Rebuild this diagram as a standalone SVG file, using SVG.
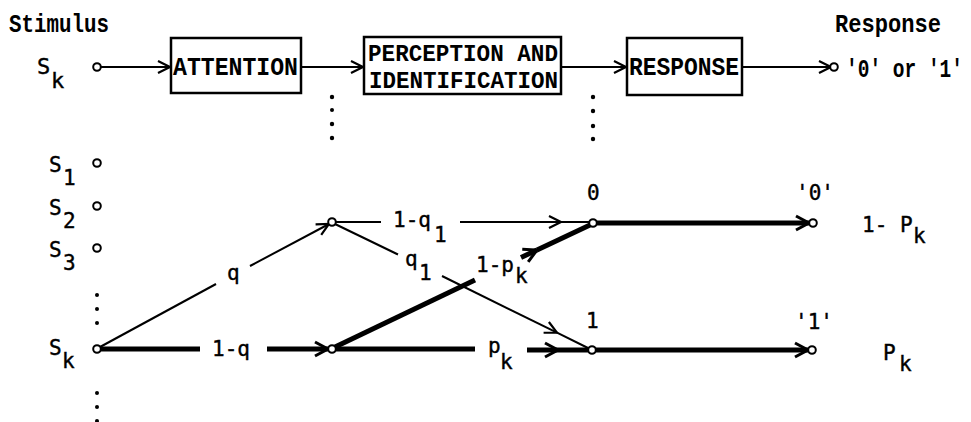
<svg xmlns="http://www.w3.org/2000/svg" width="971" height="422" viewBox="0 0 971 422">
<style>
.tw{font-family:"Liberation Mono","Courier New",monospace;font-weight:bold;font-size:22px;fill:#000}
.lg{font-family:"DejaVu Sans Mono","Liberation Mono",monospace;font-size:21px;fill:#000;stroke:#000;stroke-width:0.4}
.box{fill:#fff;stroke:#000;stroke-width:2.5}
.thin{stroke:#000;stroke-width:2;fill:none}
.thick{stroke:#000;stroke-width:5;fill:none}
.node{fill:#fff;stroke:#000;stroke-width:2}
.dot{fill:#000}
</style>
<defs>
<marker id="ah" markerUnits="userSpaceOnUse" markerWidth="16" markerHeight="16" viewBox="0 0 16 16" refX="13" refY="8" orient="auto">
<path d="M1,2 L13,8 L1,14" fill="none" stroke="#000" stroke-width="2.2"/>
</marker>
<marker id="ahb" markerUnits="userSpaceOnUse" markerWidth="18" markerHeight="18" viewBox="0 0 18 18" refX="14" refY="9" orient="auto">
<path d="M1,2 L14,9 L1,16" fill="none" stroke="#000" stroke-width="3"/>
</marker>
</defs>

<!-- top labels -->
<text class="tw" transform="translate(9,32) scale(1,1.15)" textLength="100" lengthAdjust="spacingAndGlyphs">Stimulus</text>
<text class="tw" transform="translate(835,32) scale(1,1.15)" textLength="106" lengthAdjust="spacingAndGlyphs">Response</text>

<g id="connectors">
<!-- top flow -->
<line class="thin" x1="100" y1="67" x2="170" y2="67" marker-end="url(#ah)"/>
<line class="thin" x1="301" y1="67" x2="363" y2="67" marker-end="url(#ah)"/>
<line class="thin" x1="561" y1="67" x2="626" y2="67" marker-end="url(#ah)"/>
<line class="thin" x1="742" y1="67" x2="831" y2="67" marker-end="url(#ah)"/>
<!-- Sk -> q node -->
<line class="thin" x1="100" y1="347" x2="216" y2="284"/>
<line class="thin" x1="250" y1="266" x2="329" y2="224" marker-end="url(#ah)"/>
<!-- Sk -> 1-q node -->
<line class="thick" x1="100" y1="349" x2="200" y2="349"/>
<line class="thick" x1="267" y1="349" x2="328" y2="349" marker-end="url(#ahb)"/>
<!-- q node -> 0 (1-q1) -->
<line class="thin" x1="335" y1="222" x2="381" y2="222"/>
<line class="thin" x1="460" y1="222" x2="561" y2="222" marker-end="url(#ah)"/>
<line class="thin" x1="561" y1="222" x2="589" y2="222"/>
<!-- q node -> 1 (q1) -->
<line class="thin" x1="335" y1="224" x2="398" y2="254.5"/>
<line class="thin" x1="442" y1="276" x2="557" y2="332.7" marker-end="url(#ah)"/>
<line class="thin" x1="557" y1="332.7" x2="589" y2="348.5"/>
<!-- 1-q node -> 0 (1-pk) -->
<line class="thick" x1="335" y1="347" x2="475" y2="280"/>
<line class="thick" x1="521" y1="257.5" x2="537" y2="250" marker-end="url(#ahb)"/>
<line class="thick" x1="537" y1="250" x2="590" y2="225"/>
<!-- 1-q node -> 1 (pk) -->
<line class="thick" x1="335" y1="349" x2="475" y2="349"/>
<line class="thick" x1="527" y1="350" x2="558" y2="350" marker-end="url(#ahb)"/>
<line class="thick" x1="558" y1="350" x2="589" y2="350"/>
<!-- 0 -> '0', 1 -> '1' -->
<line class="thick" x1="596" y1="223" x2="809" y2="223" marker-end="url(#ahb)"/>
<line class="thick" x1="595" y1="350" x2="808" y2="350" marker-end="url(#ahb)"/>
</g>

<!-- top nodes -->
<g id="stim-top">
<text class="lg" x="37" y="74" style="font-size:22px">S</text><text class="lg" x="51" y="88" style="font-size:22px">k</text>
<circle class="node" cx="97" cy="67" r="3.8"/>
</g>
<g id="attention">
<rect class="box" x="171" y="38" width="130" height="55"/>
<text class="tw" transform="translate(173,75) scale(1,1.15)" textLength="125" lengthAdjust="spacingAndGlyphs">ATTENTION</text>
</g>
<g id="perception">
<rect class="box" x="364" y="37" width="197" height="57"/>
<text class="tw" transform="translate(368,61) scale(1,1.08)" textLength="190" lengthAdjust="spacingAndGlyphs">PERCEPTION AND</text>
<text class="tw" transform="translate(369,88) scale(1,1.08)" textLength="189" lengthAdjust="spacingAndGlyphs">IDENTIFICATION</text>
</g>
<g id="response">
<rect class="box" x="627" y="38" width="115" height="57"/>
<text class="tw" transform="translate(629,75) scale(1,1.15)" textLength="110" lengthAdjust="spacingAndGlyphs">RESPONSE</text>
</g>
<g id="resp-top">
<circle class="node" cx="834" cy="67" r="3.8"/>
<text class="tw" style="font-size:19.5px" transform="translate(846,77) scale(1,1.28)" textLength="117" lengthAdjust="spacingAndGlyphs">'0' or '1'</text>
</g>

<!-- dots -->
<g id="dots">
<circle class="dot" cx="332" cy="97" r="2.2"/><circle class="dot" cx="332" cy="110" r="2"/><circle class="dot" cx="332" cy="124" r="2.2"/><circle class="dot" cx="332" cy="138" r="2.2"/>
<circle class="dot" cx="593" cy="97" r="2.2"/><circle class="dot" cx="593" cy="111" r="2.2"/><circle class="dot" cx="593" cy="126" r="2.2"/><circle class="dot" cx="593" cy="139" r="2.2"/>
<circle class="dot" cx="97" cy="295" r="2"/><circle class="dot" cx="97" cy="309" r="2"/><circle class="dot" cx="97" cy="323" r="2"/>
<circle class="dot" cx="97" cy="393" r="2"/><circle class="dot" cx="97" cy="407" r="2"/><circle class="dot" cx="97" cy="421" r="2"/>
</g>

<!-- stimulus nodes -->
<g id="s1"><text class="lg" x="49" y="172">S</text><text class="lg" x="63" y="185">1</text><circle class="node" cx="97" cy="163" r="3.8"/></g>
<g id="s2"><text class="lg" x="49" y="215">S</text><text class="lg" x="63" y="228">2</text><circle class="node" cx="97" cy="206" r="3.8"/></g>
<g id="s3"><text class="lg" x="49" y="257">S</text><text class="lg" x="63" y="270">3</text><circle class="node" cx="97" cy="248" r="3.8"/></g>
<g id="sk"><text class="lg" x="49" y="355">S</text><text class="lg" x="62" y="368">k</text><circle class="node" cx="97" cy="349" r="3.8"/></g>

<!-- branch labels -->
<g id="labels">
<text class="lg" x="227" y="280">q</text>
<text class="lg" x="212" y="356">1-q</text>
<text class="lg" x="393" y="227">1-q</text><text class="lg" x="434" y="242">1</text>
<text class="lg" x="405" y="266">q</text><text class="lg" x="419" y="280">1</text>
<text class="lg" x="476" y="272">1-p</text><text class="lg" x="515" y="283">k</text>
<text class="lg" x="488" y="353">p</text><text class="lg" x="500" y="369">k</text>
</g>

<!-- intermediate and response nodes -->
<g id="n-q"><circle class="node" cx="332" cy="222" r="3.8"/></g>
<g id="n-1q"><circle class="node" cx="332" cy="349" r="3.8"/></g>
<g id="n-0"><text class="lg" x="587" y="200">0</text><circle class="node" cx="593" cy="223" r="3.8"/></g>
<g id="n-1"><text class="lg" x="586" y="328">1</text><circle class="node" cx="592" cy="350" r="3.8"/></g>
<g id="r-0"><text class="lg" x="796" y="200">'0'</text><circle class="node" cx="813" cy="223" r="3.8"/>
<text class="lg" x="862" y="232">1- P</text><text class="lg" x="913" y="243">k</text></g>
<g id="r-1"><text class="lg" x="795" y="329">'1'</text><circle class="node" cx="812" cy="350" r="3.8"/>
<text class="lg" x="883" y="360">P</text><text class="lg" x="899" y="371">k</text></g>
</svg>
